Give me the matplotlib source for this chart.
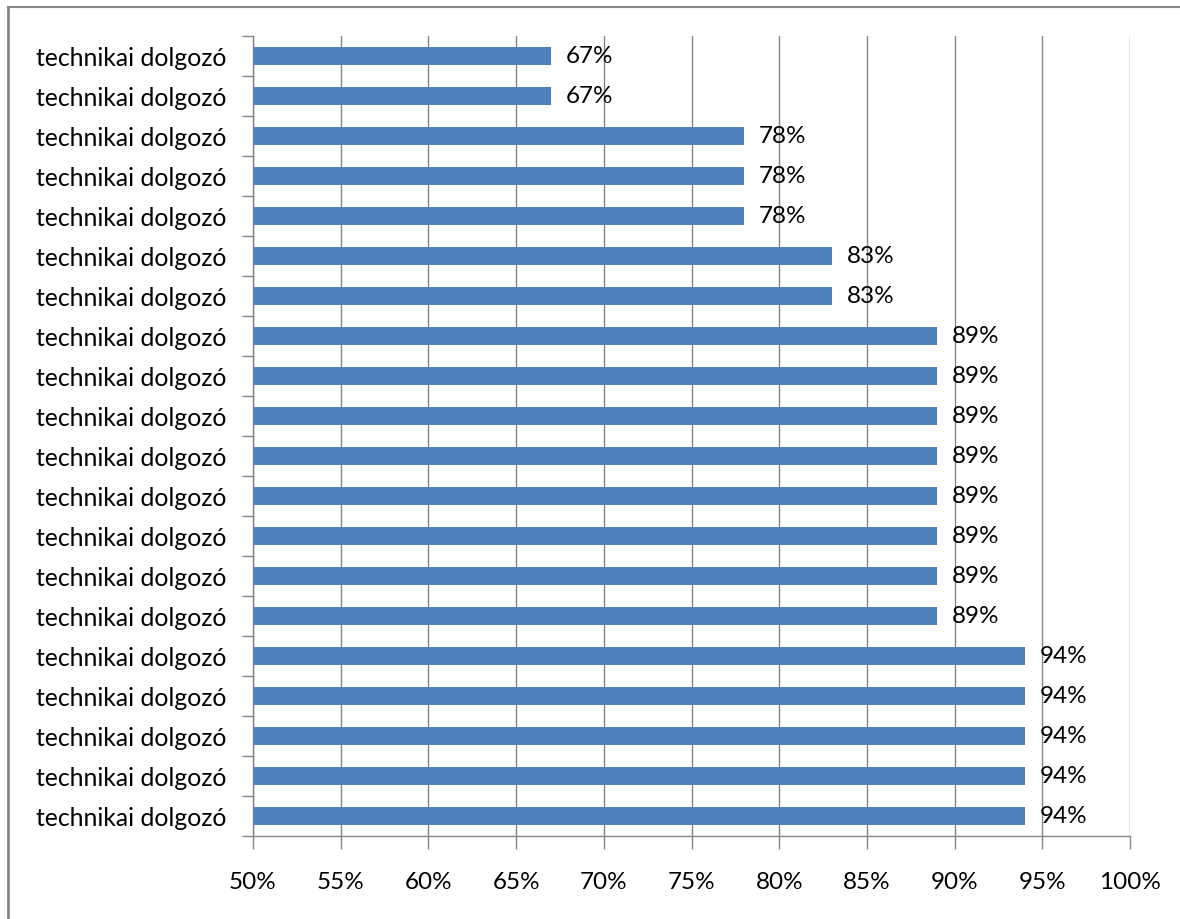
import matplotlib
matplotlib.use("Agg")
import matplotlib.pyplot as plt
from matplotlib.lines import Line2D
from matplotlib.ticker import FixedLocator

categories = ["technikai dolgozó"] * 20
values = [67, 67, 78, 78, 78, 83, 83, 89, 89, 89, 89, 89, 89, 89, 89, 94, 94, 94, 94, 94]
xticks = [50, 55, 60, 65, 70, 75, 80, 85, 90, 95, 100]
xtick_labels = [f"{t}%" for t in xticks]

plt.rcParams['font.family'] = ['Lato', 'DejaVu Sans']

W, H = 1180, 920
fig = plt.figure(figsize=(W / 100, H / 100), dpi=100)
ax = fig.add_axes([253 / W, 1 - 837 / H, (1130 - 253) / W, (837 - 37) / H])

n = len(values)
ypos = list(range(n))[::-1]
ax.barh(ypos, [v - 50 for v in values], left=50, height=0.43, color="#4F81BD", zorder=3)
for y, v in zip(ypos, values):
    ax.text(v + 0.85, y, f"{v}%", va="center", ha="left", fontsize=17.5, color="black", zorder=4)

ax.set_xlim(50, 100)
ax.set_ylim(-0.5, n - 0.5)
ax.set_xticks(xticks)
ax.set_xticklabels(xtick_labels, fontsize=17.5)
ax.set_yticks(ypos)
ax.set_yticklabels(categories, fontsize=17.8)
ax.yaxis.set_minor_locator(FixedLocator([i + 0.5 for i in range(-1, n)]))
ax.tick_params(axis="y", which="major", length=0, pad=19)
ax.tick_params(axis="y", which="minor", length=8, color="#868686", width=1)
ax.tick_params(axis="x", length=9, color="#868686", width=1, pad=16)
ax.grid(axis="x", color="#868686", linewidth=1, zorder=0)
for s in ["top", "right"]:
    ax.spines[s].set_visible(False)
for s in ["left", "bottom"]:
    ax.spines[s].set_color("#868686")
    ax.spines[s].set_linewidth(1)

# outer chart frame
fig.add_artist(Line2D([8 / W, 8 / W], [0, 1 - 8 / H], transform=fig.transFigure, color="#868686", linewidth=2))
fig.add_artist(Line2D([8 / W, 1], [1 - 8 / H, 1 - 8 / H], transform=fig.transFigure, color="#868686", linewidth=1.5))

fig.savefig("out.png", dpi=100, facecolor="white")
